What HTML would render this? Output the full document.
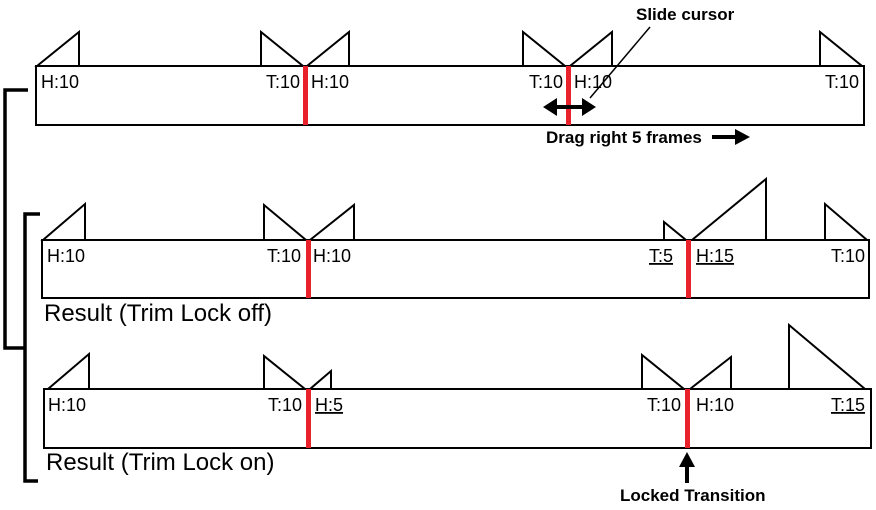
<!DOCTYPE html>
<html><head><meta charset="utf-8"><style>
html,body{margin:0;padding:0;background:#fff;width:876px;height:510px;overflow:hidden}
svg text{font-family:"Liberation Sans",Arial,sans-serif;fill:#000}
</style></head><body>
<svg width="876" height="510" viewBox="0 0 876 510" xmlns="http://www.w3.org/2000/svg">
<g fill="none" stroke="#000" stroke-width="2">
<rect x="36" y="66" width="828" height="59"/>
<polygon points="37,66 79,32 79,66"/>
<polygon points="261,32 261,66 303,66"/>
<polygon points="307,66 349,32 349,66"/>
<polygon points="523,32 523,66 565,66"/>
<polygon points="570,66 612,32 612,66"/>
<polygon points="820,32 820,66 862,66"/>
<rect x="42" y="240" width="827" height="58"/>
<polygon points="43,240 85,204 85,240"/>
<polygon points="264,205 264,240 306,240"/>
<polygon points="310,240 354,205 354,240"/>
<polygon points="664,222 664,240 686,240"/>
<polygon points="692,240 766,179 766,240"/>
<polygon points="825,204 825,240 867,240"/>
<rect x="44" y="389" width="827" height="59"/>
<polygon points="48,389 89,354 89,389"/>
<polygon points="264,356 264,389 305,389"/>
<polygon points="310,389 331,371 331,389"/>
<polygon points="642,355 642,389 684,389"/>
<polygon points="690,389 731,357 731,389"/>
<polygon points="789,325 789,389 865,389"/>
<line x1="650" y1="27" x2="590" y2="98" stroke-width="1.5"/>
</g>
<g fill="none" stroke="#000" stroke-width="3.5">
<polyline points="28,90 5,90 5,348 24,348"/>
<polyline points="40,214 25,214 25,481 38,481"/>
</g>
<g fill="#e8212a">
<rect x="303" y="66" width="5" height="59"/>
<rect x="566" y="66" width="5" height="59"/>
<rect x="306" y="240" width="5" height="58"/>
<rect x="686" y="240" width="5" height="58"/>
<rect x="306" y="389" width="5" height="59"/>
<rect x="685" y="389" width="5" height="59"/>
</g>
<g fill="#000">
<rect x="553" y="105" width="32" height="4"/>
<polygon points="543,107 557,98 557,116"/>
<polygon points="596,107 582,98 582,116"/>
<rect x="712" y="135" width="25" height="4"/>
<polygon points="750,137 735,129 735,145"/>
<rect x="685" y="465" width="4" height="18"/>
<polygon points="687,452 679,467 695,467"/>
</g>
<g font-size="18">
<text x="41" y="88">H:10</text>
<text x="266" y="88">T:10</text>
<text x="311" y="88">H:10</text>
<text x="529" y="88">T:10</text>
<text x="574" y="88">H:10</text>
<text x="825" y="88">T:10</text>
<text x="47" y="262">H:10</text>
<text x="267" y="262">T:10</text>
<text x="313" y="262">H:10</text>
<text x="649" y="262" text-decoration="underline">T:5</text>
<text x="696" y="262" text-decoration="underline">H:15</text>
<text x="831" y="262">T:10</text>
<text x="48" y="411">H:10</text>
<text x="268" y="411">T:10</text>
<text x="315" y="411" text-decoration="underline">H:5</text>
<text x="647" y="411">T:10</text>
<text x="696" y="411">H:10</text>
<text x="831" y="411" text-decoration="underline">T:15</text>
</g>
<g font-size="17" font-weight="bold">
<text x="636" y="20">Slide cursor</text>
<text x="546" y="143">Drag right 5 frames</text>
<text x="620" y="501">Locked Transition</text>
</g>
<g font-size="24">
<text x="44" y="321">Result (Trim Lock off)</text>
<text x="46" y="470">Result (Trim Lock on)</text>
</g>
</svg>
</body></html>
